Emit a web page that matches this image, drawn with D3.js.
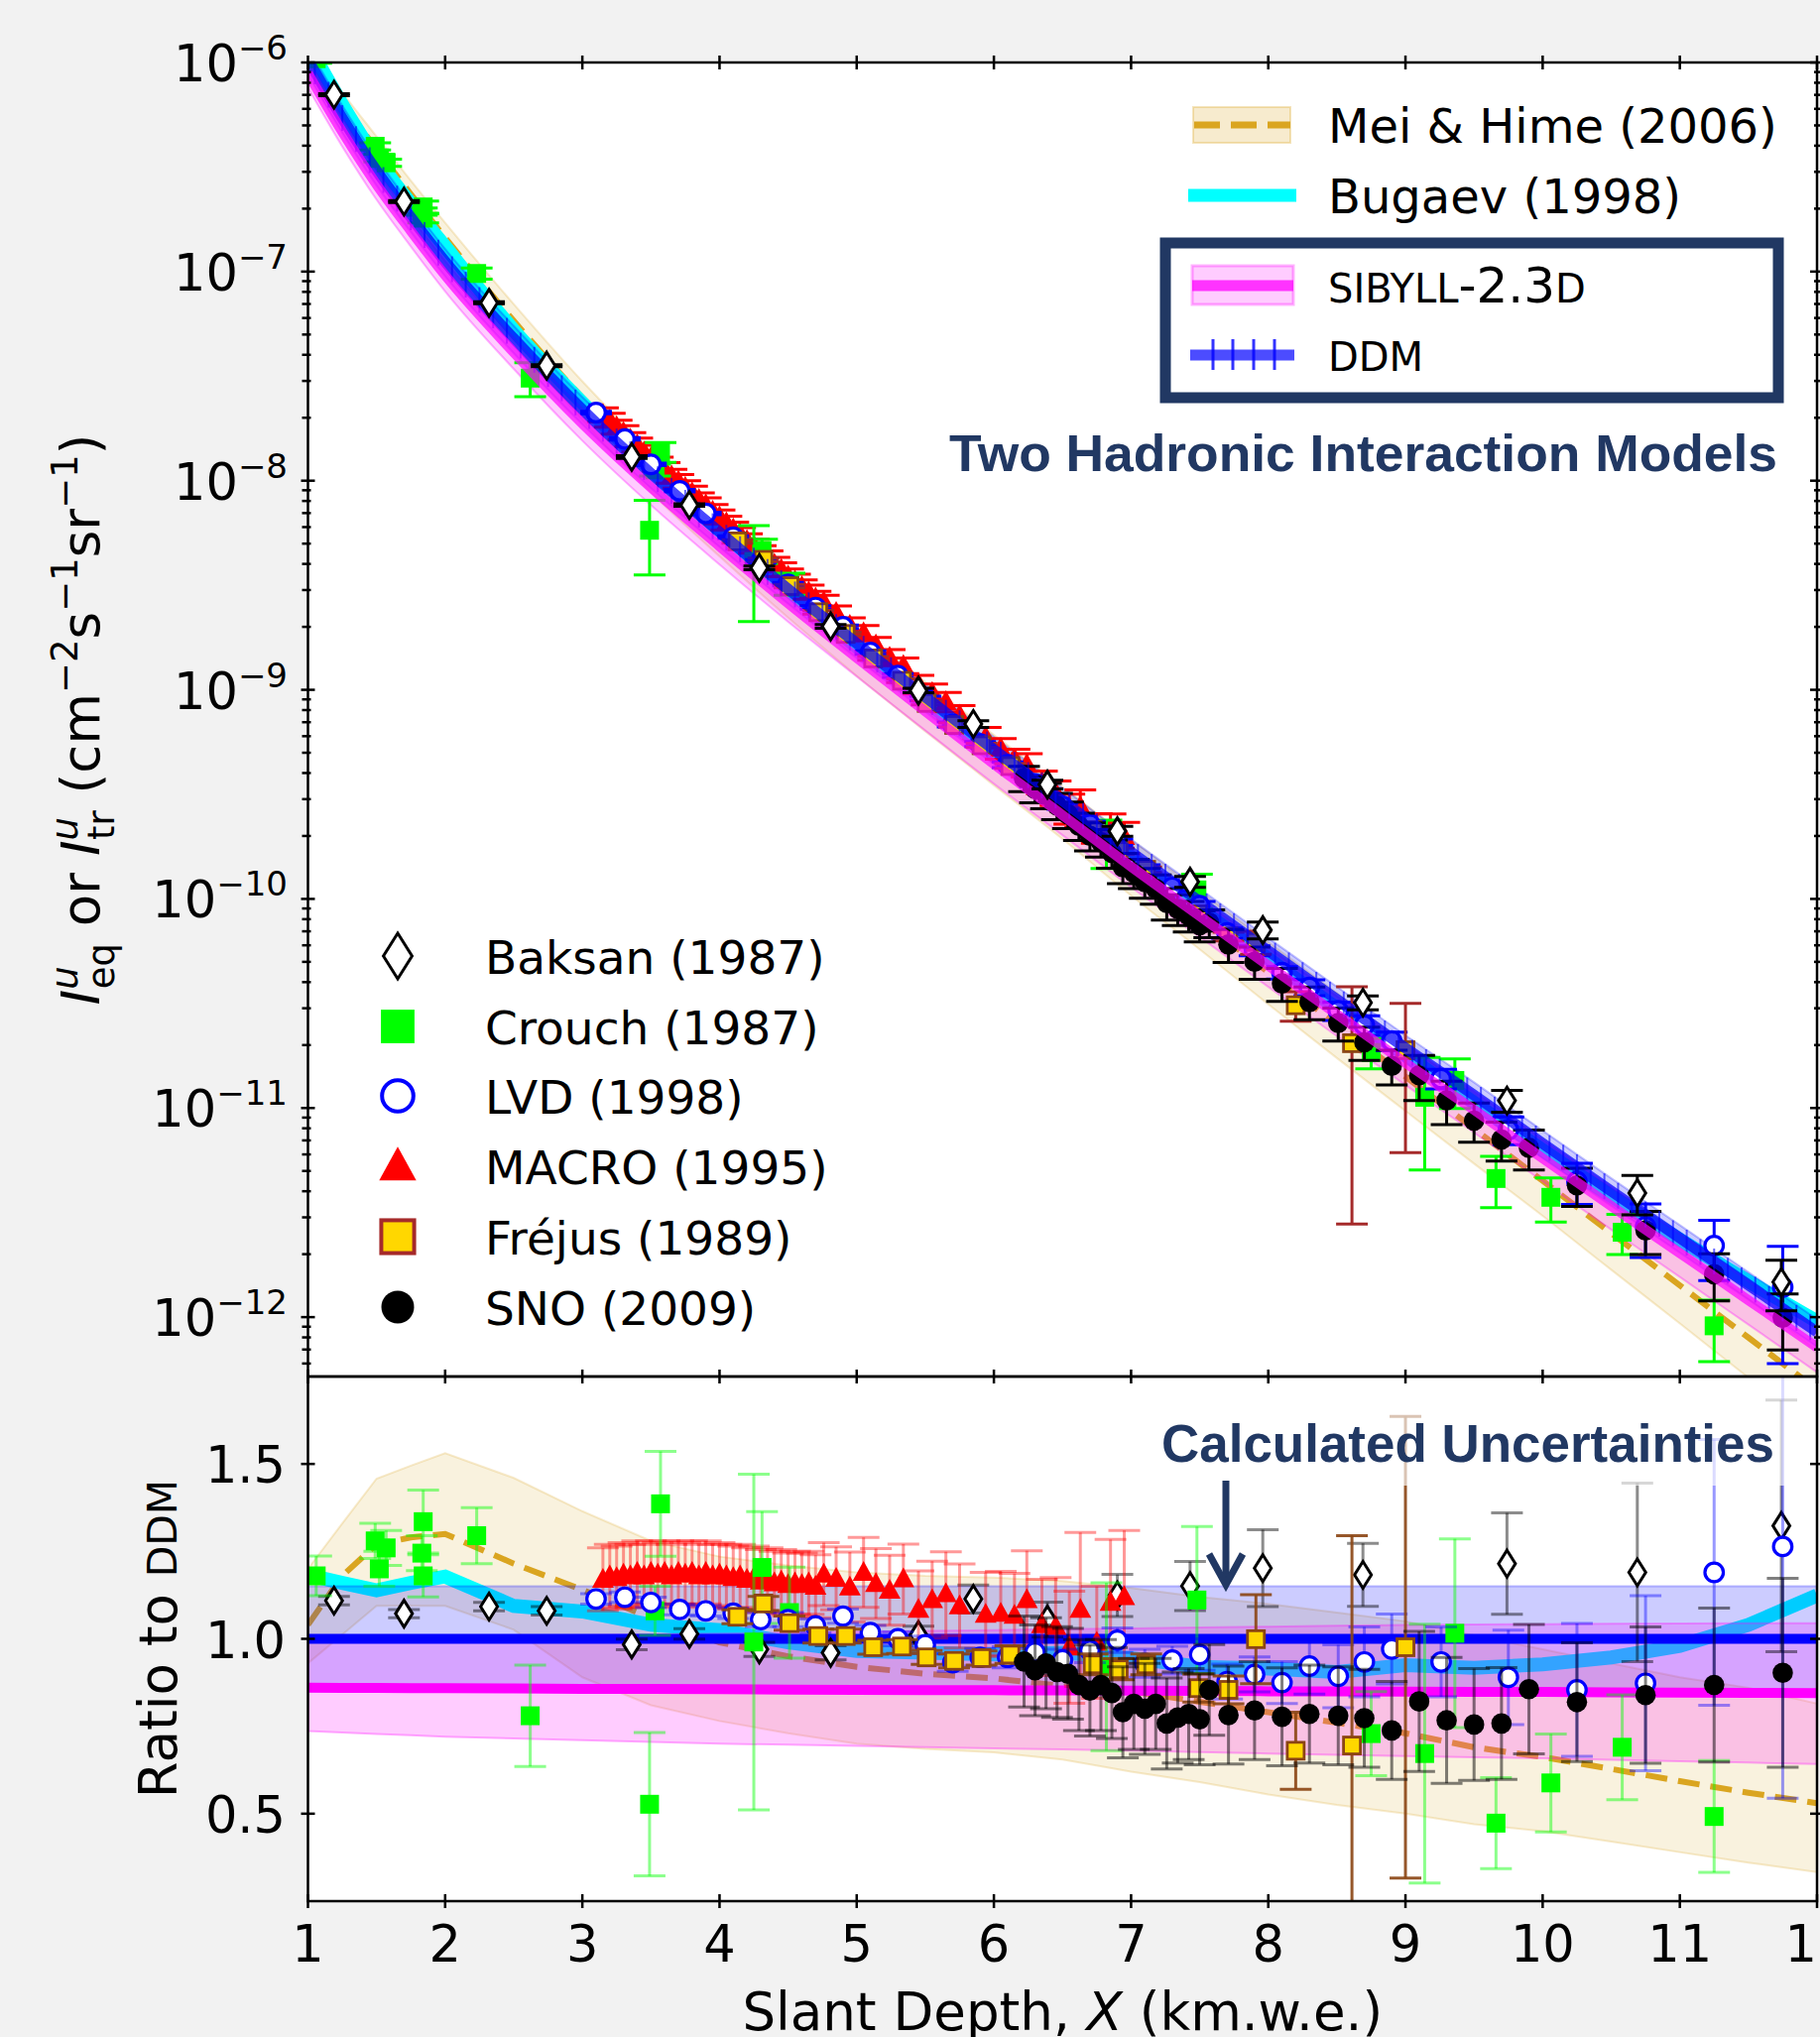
<!DOCTYPE html>
<html><head><meta charset="utf-8">
<script src="https://cdn.jsdelivr.net/npm/d3@7"></script>
<style>body{margin:0;background:#f2f2f2;}svg{display:block;}</style>
</head><body>
<svg id="c" width="1835" height="2054"></svg>
<script>
// ---------------- DATA ----------------
const xTicks = [1,2,3,4,5,6,7,8,9,10,11,12];
const ratioTicks = [0.5,1.0,1.5];
const decadeTicks = [-12,-11,-10,-9,-8,-7,-6];

// model grid (km.w.e.)
const modelX   = [1,1.25,1.5,1.75,2,2.5,3,3.5,4,4.5,5,5.5,6,6.5,7,7.5,8,8.5,9,9.5,10,10.5,11,11.5,12];
// DDM intensity, log10 (cm^-2 s^-1 sr^-1)
const ddmLog10 = [-5.987,-6.266,-6.518,-6.740,-6.952,-7.320,-7.660,-7.965,-8.246,-8.518,-8.778,-9.034,-9.286,-9.530,-9.776,-10.012,-10.248,-10.481,-10.713,-10.938,-11.169,-11.397,-11.621,-11.846,-12.071];
// Mei & Hime ratio to DDM with band
const meiRatio = [1.04,1.18,1.27,1.29,1.30,1.215,1.14,1.06,0.99,0.95,0.92,0.90,0.887,0.865,0.85,0.82,0.79,0.76,0.73,0.69,0.662,0.628,0.593,0.56,0.53];
const meiHi    = [1.20,1.33,1.458,1.495,1.531,1.46,1.365,1.28,1.235,1.21,1.19,1.18,1.175,1.165,1.145,1.12,1.10,1.075,1.05,1.01,0.97,0.93,0.89,0.86,0.815];
const meiLo    = [0.93,1.012,1.094,1.094,1.094,1.026,0.89,0.81,0.765,0.73,0.70,0.685,0.675,0.655,0.62,0.59,0.555,0.525,0.50,0.47,0.45,0.42,0.39,0.36,0.333];
// Bugaev ratio to DDM
const bugRatio = [1.183,1.16,1.139,1.16,1.178,1.094,1.078,1.04,1.025,0.99,0.965,0.96,0.955,0.96,0.945,0.92,0.915,0.905,0.925,0.917,0.927,0.947,0.98,1.04,1.124];
// SIBYLL-2.3d ratio to DDM with band
const sibX     = [1,2,3,4,5,6,7,8,9,10,11,12];
const sibRatio = [0.860,0.859,0.857,0.856,0.854,0.853,0.852,0.850,0.849,0.848,0.846,0.845];
const sibLo    = [0.736,0.72,0.71,0.70,0.694,0.687,0.68,0.672,0.665,0.658,0.65,0.642];
const sibHi    = [1.00,1.005,1.01,1.015,1.02,1.025,1.03,1.035,1.04,1.042,1.044,1.045];
// DDM band
const ddmBandX  = [1,12];
const ddmBandLo = [0.85,0.85];
const ddmBandHi = [1.15,1.15];

// Data: ratio to DDM and error
const baksanX   = [1.19,1.70,2.32,2.74,3.36,3.78,4.29,4.81,5.45,5.85,6.39,6.90,7.43,7.96,8.69,9.74,10.69,11.74];
const baksanR   = [1.109,1.072,1.092,1.080,0.984,1.014,0.970,0.960,1.011,1.114,1.055,1.124,1.151,1.202,1.183,1.215,1.190,1.323];
const baksanErr = [0.012,0.012,0.012,0.012,0.015,0.015,0.02,0.02,0.025,0.04,0.05,0.06,0.07,0.11,0.09,0.145,0.255,0.36];

const crouchX   = [1.06,1.49,1.52,1.57,1.83,1.84,1.84,2.23,2.62,3.49,3.53,3.57,4.25,4.31,4.51,6.82,7.48,8.75,9.14,9.36,9.66,10.06,10.58,11.25];
const crouchR   = [1.18,1.28,1.20,1.26,1.245,1.335,1.18,1.295,0.78,0.527,1.08,1.386,0.991,1.204,1.075,0.92,1.111,0.729,0.672,1.016,0.473,0.588,0.69,0.492];
const crouchErr = [0.057,0.05,0.05,0.05,0.05,0.09,0.06,0.08,0.145,0.205,0.07,0.15,0.48,0.16,0.13,0.24,0.21,0.12,0.37,0.27,0.13,0.14,0.15,0.16];

const lvdX   = [3.10,3.31,3.50,3.71,3.90,4.10,4.30,4.50,4.70,4.90,5.10,5.30,5.50,5.70,5.90,6.10,6.30,6.50,6.70,6.90,7.10,7.30,7.50,7.70,7.90,8.10,8.30,8.51,8.70,8.90,9.26,9.75,10.25,10.75,11.25,11.75];
const lvdR   = [1.114,1.119,1.104,1.084,1.080,1.073,1.055,1.055,1.037,1.065,1.018,1.000,0.983,0.932,0.947,0.947,0.962,0.940,0.967,0.996,0.930,0.939,0.955,0.878,0.898,0.875,0.922,0.893,0.934,0.971,0.934,0.890,0.854,0.873,1.190,1.264];
const lvdErr = [0.015,0.015,0.015,0.015,0.015,0.015,0.02,0.02,0.02,0.02,0.02,0.02,0.025,0.025,0.025,0.03,0.03,0.03,0.035,0.035,0.04,0.04,0.045,0.05,0.05,0.06,0.08,0.09,0.1,0.1,0.1,0.135,0.19,0.25,0.38,0.72];

const macroX   = [3.15,3.20,3.25,3.30,3.35,3.40,3.45,3.50,3.55,3.60,3.65,3.70,3.75,3.80,3.85,3.90,3.95,4.00,4.05,4.10,4.15,4.20,4.25,4.30,4.35,4.40,4.45,4.50,4.55,4.60,4.65,4.70,4.76,4.85,4.95,5.05,5.14,5.24,5.34,5.45,5.55,5.65,5.75,5.94,6.05,6.15,6.24,6.35,6.45,6.55,6.63,6.75,6.85,6.95];
const macroR   = [1.17,1.18,1.175,1.185,1.18,1.19,1.18,1.19,1.185,1.19,1.18,1.19,1.185,1.19,1.18,1.19,1.18,1.185,1.18,1.175,1.18,1.17,1.175,1.165,1.17,1.16,1.165,1.155,1.16,1.155,1.16,1.15,1.185,1.173,1.148,1.19,1.158,1.139,1.171,1.084,1.112,1.129,1.094,1.07,1.073,1.067,1.112,1.04,1.035,0.976,1.084,0.99,1.104,1.12];
const macroErr = [0.09,0.09,0.09,0.09,0.09,0.09,0.09,0.09,0.09,0.09,0.09,0.09,0.09,0.09,0.09,0.09,0.09,0.09,0.09,0.09,0.09,0.09,0.09,0.09,0.09,0.09,0.09,0.09,0.09,0.09,0.09,0.09,0.09,0.09,0.10,0.10,0.10,0.10,0.10,0.11,0.11,0.12,0.12,0.12,0.12,0.12,0.14,0.13,0.14,0.16,0.22,0.16,0.18,0.19];

const frejusX   = [4.13,4.32,4.51,4.72,4.92,5.12,5.33,5.51,5.71,5.91,6.12,6.72,6.91,7.11,7.49,7.71,7.91,8.20,8.61,9.00];
const frejusR   = [1.063,1.101,1.045,1.008,1.008,0.976,0.978,0.947,0.937,0.945,0.955,0.927,0.913,0.927,0.859,0.854,0.999,0.680,0.695,0.976];
const frejusErr = [0.02,0.02,0.02,0.02,0.02,0.02,0.02,0.02,0.02,0.02,0.025,0.03,0.03,0.03,0.04,0.04,0.127,0.11,0.6,0.66];

const snoX   = [6.22,6.30,6.38,6.46,6.54,6.62,6.70,6.78,6.86,6.94,7.02,7.10,7.18,7.26,7.34,7.42,7.50,7.57,7.71,7.90,8.10,8.30,8.51,8.70,8.90,9.10,9.30,9.50,9.70,9.90,10.25,10.75,11.25,11.75];
const snoR   = [0.935,0.910,0.930,0.905,0.900,0.868,0.852,0.868,0.845,0.790,0.814,0.800,0.814,0.758,0.775,0.785,0.770,0.854,0.782,0.795,0.777,0.785,0.780,0.773,0.738,0.821,0.767,0.755,0.758,0.856,0.819,0.839,0.868,0.903];
const snoErr = [0.13,0.13,0.13,0.13,0.13,0.13,0.13,0.13,0.13,0.13,0.13,0.13,0.13,0.13,0.13,0.13,0.13,0.13,0.14,0.14,0.14,0.14,0.14,0.14,0.14,0.2,0.18,0.16,0.16,0.185,0.17,0.195,0.22,0.27];

// ---------------- LAYOUT ----------------
const W=1835, H=2054;
const L=310.5, R=1832, T1=63, B1=1388, B2=1917;
const FONT='"DejaVu Sans", sans-serif';
const NAVY='#213863';
const svg=d3.select('#c');
svg.append('rect').attr('width',W).attr('height',H).attr('fill','#f2f2f2');

const x  = d3.scaleLinear().domain([1,12]).range([L,R]);
const yT = d3.scaleLog().domain([5.2e-13,1e-6]).range([B1,T1]);
const yB = d3.scaleLinear().domain([0.25,1.75]).range([B2,B1]);
const ddmLogAt = d3.scaleLinear().domain(modelX).range(ddmLog10);
const ddmAt = v => Math.pow(10, ddmLogAt(v));

const defs=svg.append('defs');
defs.append('clipPath').attr('id','cT').append('rect').attr('x',L).attr('y',T1).attr('width',R-L).attr('height',B1-T1);
defs.append('clipPath').attr('id','cB').append('rect').attr('x',L).attr('y',B1).attr('width',R-L).attr('height',B2-B1);

svg.append('rect').attr('x',L).attr('y',T1).attr('width',R-L).attr('height',B2-T1).attr('fill','#fff');

const gT=svg.append('g').attr('clip-path','url(#cT)');
const gB=svg.append('g').attr('clip-path','url(#cB)');

const sibAt   = d3.scaleLinear().domain(sibX).range(sibRatio);
const sibLoAt = d3.scaleLinear().domain(sibX).range(sibLo);
const sibHiAt = d3.scaleLinear().domain(sibX).range(sibHi);
const ddmLoAt = d3.scaleLinear().domain(ddmBandX).range(ddmBandLo);
const ddmHiAt = d3.scaleLinear().domain(ddmBandX).range(ddmBandHi);

const rows = modelX.map((v,i)=>({x:v, ddm:Math.pow(10,ddmLog10[i]),
  mei:meiRatio[i], meiLo:meiLo[i], meiHi:meiHi[i], bug:bugRatio[i],
  sib:sibAt(v), sibLo:sibLoAt(v), sibHi:sibHiAt(v), dLo:ddmLoAt(v), dHi:ddmHiAt(v)}));

function drawModels(g, top){
  const Y = top ? ((d,k)=>yT(d.ddm*k)) : ((d,k)=>yB(k));
  const curve = top ? d3.curveMonotoneX : d3.curveLinear;
  const area=(lo,hi)=>d3.area().x(d=>x(d.x)).y0(d=>Y(d,d[lo])).y1(d=>Y(d,d[hi])).curve(curve);
  const line=(k)=>d3.line().x(d=>x(d.x)).y(d=>Y(d,typeof k==='string'?d[k]:k)).curve(curve);
  g.append('path').attr('d',area('meiLo','meiHi')(rows)).attr('fill','#daa520').attr('fill-opacity',0.15)
    .attr('stroke','#daa520').attr('stroke-opacity',0.22).attr('stroke-width',2);
  g.append('path').attr('d',line('mei')(rows)).attr('fill','none').attr('stroke','#daa520')
    .attr('stroke-width',6).attr('stroke-dasharray','22,11');
  g.append('path').attr('d',line('bug')(rows)).attr('fill','none').attr('stroke','#00ffff')
    .attr('stroke-width',14);
  g.append('path').attr('d',area('dLo','dHi')(rows)).attr('fill','#0000ff').attr('fill-opacity',0.2)
    .attr('stroke','#0000ff').attr('stroke-opacity',0.25).attr('stroke-width',2);
  g.append('path').attr('d',area('sibLo','sibHi')(rows)).attr('fill','#ff00ff').attr('fill-opacity',0.2)
    .attr('stroke','#ff00ff').attr('stroke-opacity',0.3).attr('stroke-width',2);
  return {line};
}

// ---------------- markers & error bars ----------------
function marker(g, type, cx, cy, k){
  k=k||1;
  if(type==='baksan'){
    const w=8.5*k, h=13.5*k;
    g.append('path').attr('d',`M${cx},${cy-h}L${cx+w},${cy}L${cx},${cy+h}L${cx-w},${cy}Z`)
      .attr('fill','#fff').attr('stroke','#000').attr('stroke-width',3).attr('stroke-linejoin','miter');
  } else if(type==='crouch'){
    const s=19*k; g.append('rect').attr('x',cx-s/2).attr('y',cy-s/2).attr('width',s).attr('height',s).attr('fill','#00ff00');
  } else if(type==='lvd'){
    g.append('circle').attr('cx',cx).attr('cy',cy).attr('r',9.3*k).attr('fill','#fff').attr('stroke','#0000ff').attr('stroke-width',k>1?4:3.2);
  } else if(type==='macro'){
    const w=22*k, h=20*k;
    g.append('path').attr('d',`M${cx},${cy-h*0.58}L${cx+w/2},${cy+h*0.42}L${cx-w/2},${cy+h*0.42}Z`).attr('fill','#ff0000');
  } else if(type==='frejus'){
    const s=17*k; g.append('rect').attr('x',cx-s/2).attr('y',cy-s/2).attr('width',s).attr('height',s)
      .attr('fill','#ffd700').attr('stroke',k>1?'#a52a2a':'#8b4513').attr('stroke-width',k>1?4:2.8);
  } else if(type==='sno'){
    g.append('circle').attr('cx',cx).attr('cy',cy).attr('r',10.3*k).attr('fill','#000');
  }
}
function series(g, type, xs, rs, es, yf, color, alpha){
  const cap=16;
  xs.forEach((xv,i)=>{
    const px=x(xv), yu=yf(xv, rs[i]+es[i]), yl=yf(xv, Math.max(rs[i]-es[i],0.02));
    const ln=(x1,y1,x2,y2)=>g.append('line').attr('x1',x1).attr('y1',y1).attr('x2',x2).attr('y2',y2)
      .attr('stroke',color).attr('stroke-opacity',alpha).attr('stroke-width',3);
    ln(px,yu,px,yl); ln(px-cap,yu,px+cap,yu); ln(px-cap,yl,px+cap,yl);
  });
  xs.forEach((xv,i)=>marker(g,type,x(xv),yf(xv,rs[i]),1));
}

// ---------------- TOP PANEL ----------------
const mT=drawModels(gT,true);
const yfTop=(xv,r)=>yT(ddmAt(xv)*r);
series(gT,'macro',macroX,macroR,macroErr,yfTop,'#ff0000',1);
series(gT,'crouch',crouchX,crouchR,crouchErr,yfTop,'#00ff00',1);
series(gT,'lvd',lvdX,lvdR,lvdErr,yfTop,'#0000ff',1);
series(gT,'frejus',frejusX,frejusR,frejusErr,yfTop,'#a52a2a',1);
series(gT,'sno',snoX,snoR,snoErr,yfTop,'#000',1);
gT.append('path').attr('d',mT.line(1)(rows)).attr('fill','none').attr('stroke','#0000ff').attr('stroke-opacity',0.72).attr('stroke-width',11);
d3.range(1.05,12,0.1).forEach(v=>{
  const py=yT(ddmAt(v));
  gT.append('line').attr('x1',x(v)).attr('x2',x(v)).attr('y1',py-13).attr('y2',py+13)
    .attr('stroke','#0000ff').attr('stroke-opacity',0.6).attr('stroke-width',2);
});
gT.append('path').attr('d',mT.line('sib')(rows)).attr('fill','none').attr('stroke','#ff00ff').attr('stroke-opacity',0.7).attr('stroke-width',10);
series(gT,'baksan',baksanX,baksanR,baksanErr,yfTop,'#000',1);

// ---------------- BOTTOM PANEL ----------------
const mB=drawModels(gB,false);
gB.append('path').attr('d',mB.line(1)(rows)).attr('fill','none').attr('stroke','#0000ff').attr('stroke-width',10);
gB.append('path').attr('d',mB.line('sib')(rows)).attr('fill','none').attr('stroke','#ff00ff').attr('stroke-width',10);
const yfBot=(xv,r)=>yB(r);
series(gB,'baksan',baksanX,baksanR,baksanErr,yfBot,'#000',0.45);
series(gB,'macro',macroX,macroR,macroErr,yfBot,'#ff0000',0.4);
series(gB,'crouch',crouchX,crouchR,crouchErr,yfBot,'#00ff00',0.45);
series(gB,'lvd',lvdX,lvdR,lvdErr,yfBot,'#0000ff',0.4);
series(gB,'frejus',frejusX,frejusR,frejusErr,yfBot,'#8b4513',0.9);
series(gB,'sno',snoX,snoR,snoErr,yfBot,'#000',0.5);
gB.append('rect').attr('x',1160).attr('y',B1).attr('width',672).attr('height',110).attr('fill','#fff').attr('fill-opacity',0.65);

// ---------------- AXES ----------------
const ax=svg.append('g').attr('stroke','#000').attr('stroke-width',2.5);
ax.append('rect').attr('x',L).attr('y',T1).attr('width',R-L).attr('height',B1-T1).attr('fill','none');
ax.append('rect').attr('x',L).attr('y',B1).attr('width',R-L).attr('height',B2-B1).attr('fill','none');
function vt(xp,yp,up,down){ax.append('line').attr('x1',xp).attr('x2',xp).attr('y1',yp-up).attr('y2',yp+down);}
function ht(xp,yp,l,r){ax.append('line').attr('x1',xp-l).attr('x2',xp+r).attr('y1',yp).attr('y2',yp);}
xTicks.forEach(v=>{const p=x(v); vt(p,T1,7,7); vt(p,B1,7,7); vt(p,B2,7,7);});
yT.ticks().forEach(v=>{
  const lg10=Math.log10(v), major=Math.abs(lg10-Math.round(lg10))<1e-6, p=yT(v);
  if(major){ht(L,p,7,7); ht(R,p,7,7);} else {ht(L,p,6,3); ht(R,p,3,6);}
});
ratioTicks.forEach(v=>{const p=yB(v); ht(L,p,7,7); ht(R,p,7,7);});

// ---------------- LEGEND SHAPES ----------------
const lg=svg.append('g');
lg.append('rect').attr('x',1203).attr('y',108).attr('width',98).attr('height',36).attr('fill','#daa520').attr('fill-opacity',0.22)
  .attr('stroke','#daa520').attr('stroke-opacity',0.3).attr('stroke-width',2);
lg.append('line').attr('x1',1204).attr('x2',1301).attr('y1',126).attr('y2',126).attr('stroke','#daa520').attr('stroke-width',7).attr('stroke-dasharray','26,11');
lg.append('line').attr('x1',1198).attr('x2',1307).attr('y1',197).attr('y2',197).attr('stroke','#00ffff').attr('stroke-width',13);
lg.append('rect').attr('x',1175).attr('y',245).attr('width',618).attr('height',156).attr('fill','#fff').attr('stroke',NAVY).attr('stroke-width',11);
lg.append('rect').attr('x',1202).attr('y',268).attr('width',102).attr('height',39).attr('fill','#ff00ff').attr('fill-opacity',0.2)
  .attr('stroke','#ff00ff').attr('stroke-opacity',0.3).attr('stroke-width',3);
lg.append('line').attr('x1',1202).attr('x2',1304).attr('y1',288).attr('y2',288).attr('stroke','#ff00ff').attr('stroke-opacity',0.75).attr('stroke-width',11);
lg.append('line').attr('x1',1200).attr('x2',1305).attr('y1',358).attr('y2',358).attr('stroke','#0000ff').attr('stroke-opacity',0.7).attr('stroke-width',11);
[1223,1243,1264,1285].forEach(v=>lg.append('line').attr('x1',v).attr('x2',v).attr('y1',342).attr('y2',373).attr('stroke','#0000ff').attr('stroke-opacity',0.8).attr('stroke-width',3));

// ---------------- TEXT ----------------
const txt=svg.append('g').attr('font-family',FONT).attr('fill','#000');
xTicks.forEach(v=>{
  txt.append('text').attr('x',x(v)).attr('y',1978).attr('text-anchor','middle').attr('font-size',51).text(v);
});
decadeTicks.forEach(n=>{
  const t=txt.append('text').attr('x',290).attr('y',yT(Math.pow(10,n))+19).attr('text-anchor','end');
  t.append('tspan').attr('font-size',51).text('10');
  t.append('tspan').attr('font-size',34).attr('dy',-22).text('\u2212'+Math.abs(n));
});
ratioTicks.forEach(v=>{
  txt.append('text').attr('x',288).attr('y',yB(v)+19).attr('text-anchor','end').attr('font-size',51).text(v.toFixed(1));
});
const xl=txt.append('text').attr('x',(L+R)/2).attr('y',2047).attr('text-anchor','middle').attr('font-size',53);
xl.append('tspan').text('Slant Depth, ');
xl.append('tspan').attr('font-style','italic').text('X');
xl.append('tspan').text(' (km.w.e.)');
const yl=txt.append('text').attr('transform',`translate(100,${(T1+B1)/2}) rotate(-90)`).attr('text-anchor','middle').attr('font-size',53);
const sp=(t,o)=>{const s=yl.append('tspan').text(t); Object.entries(o||{}).forEach(([k,v])=>s.attr(k,v)); return s;};
sp('I',{'font-style':'italic'});
sp('u',{'font-style':'italic','font-size':37,dy:-22});
sp('eq',{'font-size':37,dx:-23,dy:37});
sp(' or ',{dy:-15});
sp('I',{'font-style':'italic'});
sp('u',{'font-style':'italic','font-size':37,dy:-22});
sp('tr',{'font-size':37,dx:-23,dy:37});
sp(' (cm',{dy:-15});
sp('\u22122',{'font-size':37,dy:-22});
sp('s',{dy:22});
sp('\u22121',{'font-size':37,dy:-22});
sp('sr',{dy:22});
sp('\u22121',{'font-size':37,dy:-22});
sp(')',{dy:22});
const rl=txt.append('text').attr('transform',`translate(178,${(B1+B2)/2}) rotate(-90)`).attr('text-anchor','middle').attr('font-size',53);
rl.append('tspan').text('Ratio to ');
rl.append('tspan').attr('font-size',41).text('DDM');

txt.append('text').attr('x',1339).attr('y',144).attr('font-size',48).text('Mei & Hime (2006)');
txt.append('text').attr('x',1339).attr('y',215).attr('font-size',48).text('Bugaev (1998)');
const st=txt.append('text').attr('x',1339).attr('y',305);
st.append('tspan').attr('font-size',40).text('SIBYLL');
st.append('tspan').attr('font-size',50).text('-2.3');
st.append('tspan').attr('font-size',40).text('D');
txt.append('text').attr('x',1339).attr('y',374).attr('font-size',40).text('DDM');

svg.append('text').attr('x',957).attr('y',475).attr('font-family','"Liberation Sans", Arial, sans-serif').attr('font-weight','bold')
  .attr('font-size',52).attr('fill',NAVY).attr('textLength',835).attr('lengthAdjust','spacingAndGlyphs').text('Two Hadronic Interaction Models');
svg.append('text').attr('x',1171).attr('y',1474).attr('font-family','"Liberation Sans", Arial, sans-serif').attr('font-weight','bold')
  .attr('font-size',53).attr('fill',NAVY).attr('textLength',618).attr('lengthAdjust','spacingAndGlyphs').text('Calculated Uncertainties');
svg.append('line').attr('x1',1236).attr('x2',1236).attr('y1',1493).attr('y2',1594).attr('stroke',NAVY).attr('stroke-width',7);
svg.append('polyline').attr('points','1219,1567 1236,1598 1253,1567').attr('fill','none').attr('stroke',NAVY).attr('stroke-width',7).attr('stroke-linejoin','miter');

// data legend
const dl=[['baksan','Baksan (1987)'],['crouch','Crouch (1987)'],['lvd','LVD (1998)'],['macro','MACRO (1995)'],['frejus','Fr\u00e9jus (1989)'],['sno','SNO (2009)']];
const dlY=[964,1035,1105,1176,1247,1318];
const legScale={baksan:1.7,crouch:1.78,lvd:1.7,macro:1.7,frejus:1.95,sno:1.6};
dl.forEach((d,i)=>{
  marker(lg,d[0],401,dlY[i],legScale[d[0]]);
  txt.append('text').attr('x',489).attr('y',dlY[i]+18).attr('font-size',47).text(d[1]);
});
</script>
</body></html>
